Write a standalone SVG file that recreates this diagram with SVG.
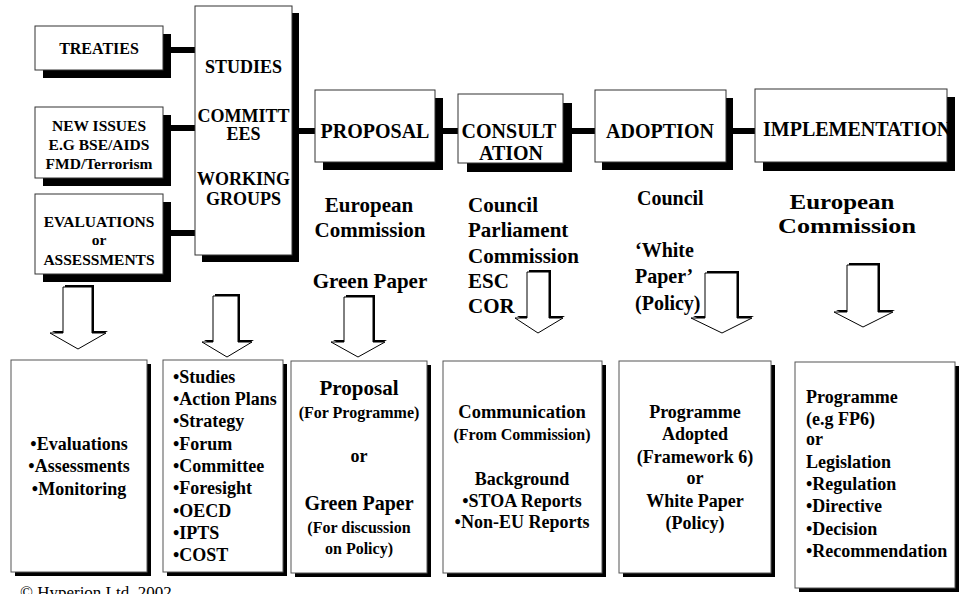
<svg xmlns="http://www.w3.org/2000/svg" width="961" height="594" viewBox="0 0 961 594">
<style>
text{font-family:"Liberation Serif","Times New Roman",serif;font-weight:bold;fill:#000}
.c{text-anchor:middle}
.box{fill:#fff;stroke:#333;stroke-width:1}
.bbox{fill:#fff;stroke:#555;stroke-width:1}
.sh{fill:#000}
.con{stroke:#000;stroke-width:6;fill:none}
.arr{fill:#fff;stroke:#000;stroke-width:1}
.t16{font-size:16px}.t15{font-size:15.5px}.t18{font-size:18px}.t20{font-size:20px}.t21{font-size:21px}
.foot{font-weight:normal;font-size:17px}
</style>
<rect width="961" height="594" fill="#fff"/>
<g id="connectors">
<line class="con" x1="163" y1="50" x2="196" y2="50"/>
<line class="con" x1="163" y1="128" x2="196" y2="128"/>
<line class="con" x1="163" y1="233" x2="196" y2="233"/>
<line class="con" x1="292" y1="131" x2="316" y2="131"/>
<line class="con" x1="435" y1="131" x2="459" y2="131"/>
<line class="con" x1="563" y1="131" x2="596" y2="131"/>
<line class="con" x1="726" y1="131" x2="756" y2="131"/>
</g>
<g id="treaties">
<rect class="sh" x="43" y="34" width="128" height="44"/>
<rect class="box" x="35" y="26" width="128" height="44"/>
<text class="c t16" x="99" y="54">TREATIES</text>
</g>
<g id="new-issues">
<rect class="sh" x="43" y="115" width="128" height="71"/>
<rect class="box" x="35" y="107" width="128" height="71"/>
<text class="c t15" x="99" y="131">NEW ISSUES</text>
<text class="c t15" x="99" y="150">E.G BSE/AIDS</text>
<text class="c t15" x="99" y="169">FMD/Terrorism</text>
</g>
<g id="evaluations">
<rect class="sh" x="43" y="202" width="128" height="80"/>
<rect class="box" x="35" y="194" width="128" height="80"/>
<text class="c t15" x="99" y="227">EVALUATIONS</text>
<text class="c t15" x="99" y="245">or</text>
<text class="c t15" x="99" y="265">ASSESSMENTS</text>
</g>
<g id="studies">
<rect class="sh" x="202" y="13" width="97" height="249"/>
<rect class="box" x="195" y="6" width="97" height="249"/>
<text class="c t18" x="243.5" y="73">STUDIES</text>
<text class="c t18" x="243.5" y="122">COMMITT</text>
<text class="c t18" x="243.5" y="140">EES</text>
<text class="c t18" x="243.5" y="185">WORKING</text>
<text class="c t18" x="243.5" y="205">GROUPS</text>
</g>
<g id="proposal">
<rect class="sh" x="323" y="98" width="120" height="72"/>
<rect class="box" x="315" y="90" width="120" height="72"/>
<text class="c t20" x="375" y="138">PROPOSAL</text>
</g>
<g id="consultation">
<rect class="sh" x="467" y="103" width="105" height="69"/>
<rect class="box" x="458" y="94" width="105" height="69"/>
<text class="c t20" x="509" y="138">CONSULT</text>
<text class="c t20" x="511" y="160">ATION</text>
</g>
<g id="adoption">
<rect class="sh" x="602" y="98" width="131" height="72"/>
<rect class="box" x="595" y="90" width="131" height="72"/>
<text class="c t20" x="660" y="138">ADOPTION</text>
</g>
<g id="implementation">
<rect class="sh" x="763" y="97" width="192" height="74"/>
<rect class="box" x="755" y="89" width="192" height="73"/>
<text class="t20" x="763" y="136">IMPLEMENTATION</text>
</g>
<g id="proposal-labels">
<text class="c t21" x="369" y="212">European</text>
<text class="c t21" x="370" y="237">Commission</text>
<text class="c t21" x="370" y="288">Green Paper</text>
</g>
<g id="consultation-labels">
<text class="t21" x="468" y="212">Council</text>
<text class="t21" x="468" y="237">Parliament</text>
<text class="t21" x="468" y="263">Commission</text>
<text class="t21" x="468" y="288">ESC</text>
<text class="t21" x="468" y="313">COR</text>
</g>
<g id="adoption-labels">
<text class="t20" x="637" y="205">Council</text>
<text class="t20" x="635" y="257">‘White</text>
<text class="t20" x="635" y="283">Paper’</text>
<text class="t20" x="635" y="310">(Policy)</text>
</g>
<g id="implementation-labels">
<text class="c" font-size="21" x="842" y="209" textLength="105" lengthAdjust="spacingAndGlyphs">European</text>
<text class="c" font-size="21" x="847" y="233" textLength="138" lengthAdjust="spacingAndGlyphs">Commission</text>
</g>
<g id="arrows">
<polygon class="sh" transform="translate(2,-2)" points="63,287 92,287 92,333 106,333 78,349 50,333 63,333"/>
<polygon class="arr" points="63,287 92,287 92,333 106,333 78,349 50,333 63,333"/>
<polygon class="sh" transform="translate(2,-2)" points="213,296 238,296 238,342 252,342 227,357 202,342 213,342"/>
<polygon class="arr" points="213,296 238,296 238,342 252,342 227,357 202,342 213,342"/>
<polygon class="sh" transform="translate(2,-2)" points="344,297 373,297 373,342 385,342 358,357 331,342 344,342"/>
<polygon class="arr" points="344,297 373,297 373,342 385,342 358,357 331,342 344,342"/>
<polygon class="sh" transform="translate(2,-2)" points="527,272 549,272 549,318 563,318 538,333 515,318 527,318"/>
<polygon class="arr" points="527,272 549,272 549,318 563,318 538,333 515,318 527,318"/>
<polygon class="sh" transform="translate(2,-2)" points="705,273 737,273 737,318 752,318 722,333 691,318 705,318"/>
<polygon class="arr" points="705,273 737,273 737,318 752,318 722,333 691,318 705,318"/>
<polygon class="sh" transform="translate(2,-2)" points="847,265 878,265 878,312 893,312 863,327 834,312 847,312"/>
<polygon class="arr" points="847,265 878,265 878,312 893,312 863,327 834,312 847,312"/>
</g>
<g id="out-evaluations">
<rect class="sh" x="15" y="364" width="136" height="212"/>
<rect class="bbox" x="11" y="360" width="136" height="212"/>
<text class="c t18" x="79" y="450">•Evaluations</text>
<text class="c t18" x="79" y="472">•Assessments</text>
<text class="c t18" x="79" y="495">•Monitoring</text>
</g>
<g id="out-studies">
<rect class="sh" x="167" y="364" width="120" height="212"/>
<rect class="bbox" x="163" y="360" width="120" height="212"/>
<text class="t18" x="173" y="383">•Studies</text>
<text class="t18" x="173" y="405">•Action Plans</text>
<text class="t18" x="173" y="427">•Strategy</text>
<text class="t18" x="173" y="450">•Forum</text>
<text class="t18" x="173" y="472">•Committee</text>
<text class="t18" x="173" y="494">•Foresight</text>
<text class="t18" x="173" y="517">•OECD</text>
<text class="t18" x="173" y="539">•IPTS</text>
<text class="t18" x="173" y="561">•COST</text>
</g>
<g id="out-proposal">
<rect class="sh" x="295" y="365" width="136" height="212"/>
<rect class="bbox" x="291" y="361" width="136" height="212"/>
<text class="c t21" x="359" y="395">Proposal</text>
<text class="c t16" x="359" y="418">(For Programme)</text>
<text class="c t18" x="359" y="462">or</text>
<text class="c t20" x="359" y="510">Green Paper</text>
<text class="c t16" x="359" y="533">(For discussion</text>
<text class="c t16" x="359" y="554">on Policy)</text>
</g>
<g id="out-consultation">
<rect class="sh" x="447" y="365" width="159" height="212"/>
<rect class="bbox" x="443" y="361" width="159" height="212"/>
<text class="c" font-size="18.5" x="522" y="418">Communication</text>
<text class="c t16" x="522" y="440">(From Commission)</text>
<text class="c t18" x="522" y="485">Background</text>
<text class="c t18" x="522" y="507">•STOA Reports</text>
<text class="c t18" x="522" y="528">•Non-EU Reports</text>
</g>
<g id="out-adoption">
<rect class="sh" x="623" y="365" width="152" height="212"/>
<rect class="bbox" x="619" y="361" width="152" height="212"/>
<text class="c t18" x="695" y="418">Programme</text>
<text class="c t18" x="695" y="440">Adopted</text>
<text class="c t18" x="695" y="463">(Framework 6)</text>
<text class="c t18" x="695" y="484">or</text>
<text class="c t18" x="695" y="507">White Paper</text>
<text class="c t18" x="695" y="529">(Policy)</text>
</g>
<g id="out-implementation">
<rect class="sh" x="799" y="366" width="160" height="226"/>
<rect class="bbox" x="795" y="362" width="160" height="226"/>
<text class="t18" x="806" y="403">Programme</text>
<text class="t18" x="806" y="425">(e.g FP6)</text>
<text class="t18" x="806" y="445">or</text>
<text class="t18" x="806" y="468">Legislation</text>
<text class="t18" x="806" y="490">•Regulation</text>
<text class="t18" x="806" y="512">•Directive</text>
<text class="t18" x="806" y="535">•Decision</text>
<text class="t18" x="806" y="557">•Recommendation</text>
</g>
<text class="foot" x="20" y="598">© Hyperion Ltd. 2002</text>
</svg>
